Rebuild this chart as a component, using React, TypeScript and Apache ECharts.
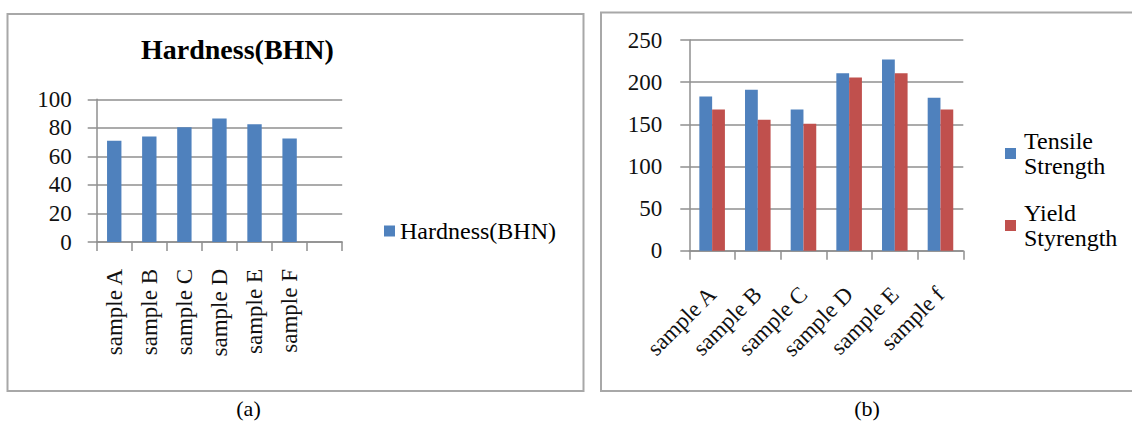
import React, { useEffect, useRef } from 'react';
import * as echarts from 'echarts';

// Panel (a)
const hardnessCategories = ['sample A', 'sample B', 'sample C', 'sample D', 'sample E', 'sample F', ''];
const hardnessValues = [71, 74, 80.5, 86.5, 82.5, 72.5];
const hardnessName = 'Hardness(BHN)';
const hardnessMin = 0;
const hardnessMax = 100;
const hardnessStep = 20;

// Panel (b)
const strengthCategories = ['sample A', 'sample B', 'sample C', 'sample D', 'sample E', 'sample f'];
const tensileName = 'Tensile Strength';
const yieldName = 'Yield Styrength';
const tensileValues = [183, 191, 167.5, 210.5, 227, 181.5];
const yieldValues = [167.5, 155.5, 150.5, 205.5, 210.5, 167.5];
const strengthMin = 0;
const strengthMax = 250;
const strengthStep = 50;

const captions = ['(a)', '(b)'];

const FONT = "'Liberation Serif', 'Times New Roman', serif";
const BLUE = '#4F81BD';
const RED = '#C0504D';
const GRID = '#8f8f8f';
const BORDER = '#a8a8a8';

export default function App() {
  const ref = useRef<HTMLDivElement>(null);
  useEffect(() => {
    if (!ref.current) return;
    const chart = echarts.init(ref.current, undefined, { renderer: 'svg' });
    const axisLine = { show: true, lineStyle: { color: GRID, width: 1.5 } };
    const split = { show: true, lineStyle: { color: GRID, width: 1.5 } };
    const tick = { show: true, length: 9, lineStyle: { color: GRID, width: 1.5 } };
    const labelText = { fontFamily: FONT, fontSize: 23, color: '#111' };
    chart.setOption({
      animation: false,
      textStyle: { fontFamily: FONT },
      title: {
        text: hardnessName,
        left: 141,
        top: 35.5,
        padding: 0,
        textStyle: { fontFamily: FONT, fontSize: 28, fontWeight: 'bold', color: '#000', lineHeight: 28 },
      },
      legend: [
        {
          data: [hardnessName],
          left: 384,
          top: 219,
          padding: 0,
          itemWidth: 11,
          itemHeight: 11,
          icon: 'rect',
          selectedMode: false,
          textStyle: { fontFamily: FONT, fontSize: 24, lineHeight: 24, color: '#000' },
        },
        {
          data: [tensileName, yieldName],
          orient: 'vertical',
          left: 1005,
          top: 116,
          padding: 0,
          itemGap: -3,
          itemWidth: 11,
          itemHeight: 11,
          icon: 'rect',
          selectedMode: false,
          formatter: (n: string) => n.replace(' ', '\n'),
          textStyle: { fontFamily: FONT, fontSize: 24, lineHeight: 25, color: '#000', padding: [25, 0, 0, 3] },
        },
      ],
      grid: [
        { left: 96.7, top: 99.3, width: 245.5, height: 142.7, outerBoundsMode: 'none', containLabel: false },
        { left: 689.3, top: 40, width: 274, height: 210.7, outerBoundsMode: 'none', containLabel: false },
      ],
      xAxis: [
        {
          type: 'category',
          gridIndex: 0,
          data: hardnessCategories,
          axisLine,
          axisTick: { ...tick, interval: 0 },
          axisLabel: { ...labelText, rotate: 90, margin: 27, interval: 0 },
        },
        {
          type: 'category',
          gridIndex: 1,
          data: strengthCategories,
          axisLine,
          axisTick: { ...tick, interval: 0 },
          axisLabel: { ...labelText, rotate: 45, margin: 40, interval: 0 },
        },
      ],
      yAxis: [
        {
          type: 'value',
          gridIndex: 0,
          min: hardnessMin,
          max: hardnessMax,
          interval: hardnessStep,
          axisLine,
          axisTick: tick,
          splitLine: split,
          axisLabel: { ...labelText, margin: 25 },
        },
        {
          type: 'value',
          gridIndex: 1,
          min: strengthMin,
          max: strengthMax,
          interval: strengthStep,
          axisLine,
          axisTick: tick,
          splitLine: split,
          axisLabel: { ...labelText, margin: 27 },
        },
      ],
      series: [
        {
          type: 'bar',
          name: hardnessName,
          xAxisIndex: 0,
          yAxisIndex: 0,
          data: hardnessValues,
          barCategoryGap: '59%',
          itemStyle: { color: BLUE },
        },
        {
          type: 'bar',
          name: tensileName,
          xAxisIndex: 1,
          yAxisIndex: 1,
          data: tensileValues,
          barGap: '0%',
          barCategoryGap: '44%',
          itemStyle: { color: BLUE },
        },
        {
          type: 'bar',
          name: yieldName,
          xAxisIndex: 1,
          yAxisIndex: 1,
          data: yieldValues,
          barGap: '0%',
          barCategoryGap: '44%',
          itemStyle: { color: RED },
        },
      ],
      graphic: [
        {
          type: 'rect',
          shape: { x: 7.5, y: 14, width: 576, height: 377 },
          style: { fill: 'none', stroke: BORDER, lineWidth: 2 },
          silent: true,
          z: -1,
        },
        {
          type: 'rect',
          shape: { x: 601, y: 12.5, width: 545, height: 378.5 },
          style: { fill: 'none', stroke: BORDER, lineWidth: 2 },
          silent: true,
          z: -1,
        },
        {
          type: 'text',
          x: 248.5,
          y: 408,
          style: { text: captions[0], font: `22px ${FONT}`, fill: '#000', align: 'center', verticalAlign: 'middle' },
        },
        {
          type: 'text',
          x: 867,
          y: 408,
          style: { text: captions[1], font: `22px ${FONT}`, fill: '#000', align: 'center', verticalAlign: 'middle' },
        },
      ],
    });
    return () => chart.dispose();
  }, []);
  return (
    <div
      ref={ref}
      style={{ position: 'absolute', left: 0, top: 0, width: 1132, height: 421, background: '#fff' }}
    />
  );
}
